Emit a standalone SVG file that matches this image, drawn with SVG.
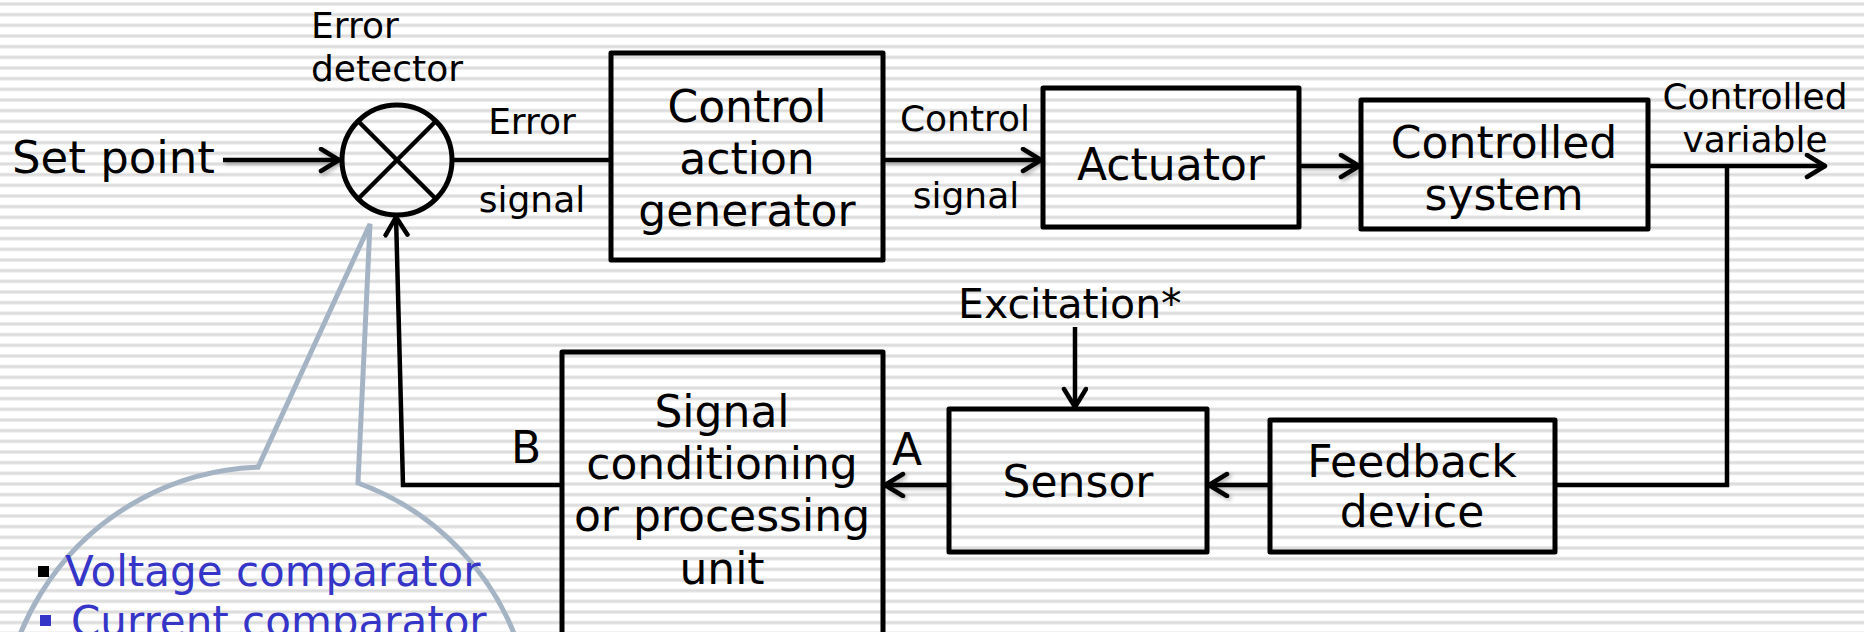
<svg xmlns="http://www.w3.org/2000/svg" width="1864" height="632" viewBox="0 0 1864 632">
<style>
  .box{fill:none;stroke:#000;stroke-width:5;stroke-linejoin:round}
  .big{font-family:"DejaVu Sans",Verdana,sans-serif;font-size:44px;fill:#000}
  .sm{font-family:"DejaVu Sans",Verdana,sans-serif;font-size:36px;fill:#000}
  .mid{text-anchor:middle}
  .ln{fill:none;stroke:#000;stroke-width:4.5}
  .bub{font-family:"DejaVu Sans",Verdana,sans-serif;font-size:42px;fill:#3535c8}
</style>
<defs>
  <pattern id="stripes" width="40" height="10.6667" patternUnits="userSpaceOnUse">
    <rect width="40" height="10.6667" fill="#ffffff"/>
    <rect y="2" width="40" height="4" fill="#efefef"/>
    <rect y="2.8" width="40" height="2.4" fill="#dcdcdc"/>
  </pattern>
  <marker id="arr" markerUnits="userSpaceOnUse" markerWidth="32" markerHeight="32" refX="23" refY="13" orient="auto">
    <path d="M4 2 L22 13 L4 24" fill="none" stroke="#000" stroke-width="4.5" stroke-linecap="round" stroke-linejoin="round"/>
  </marker>
  <filter id="sh" filterUnits="userSpaceOnUse" x="0" y="0" width="1864" height="632">
    <feDropShadow dx="2" dy="2" stdDeviation="2" flood-color="#000" flood-opacity="0.3"/>
  </filter>
</defs>
<rect width="1864" height="632" fill="url(#stripes)"/>

<g id="callout">
  <path d="M258 467.2 A266 266 0 1 0 358 483 L370 224 Z" fill="none" stroke="#a5b4c4" stroke-width="5" stroke-linejoin="miter"/>
  <rect x="38" y="566" width="11" height="11" fill="#000"/>
  <text class="bub" x="65" y="586">Voltage comparator</text>
  <rect x="40" y="615" width="11" height="11" fill="#3535c8"/>
  <text class="bub" x="71" y="636">Current comparator</text>
</g>

<g id="connectors">
  <line class="ln" x1="223" y1="160" x2="340" y2="160" marker-end="url(#arr)" filter="url(#sh)"/>
  <line class="ln" x1="452" y1="160" x2="611" y2="160"/>
  <line class="ln" x1="883" y1="160" x2="1042" y2="160" marker-end="url(#arr)" filter="url(#sh)"/>
  <line class="ln" x1="1299" y1="166" x2="1360" y2="166" marker-end="url(#arr)" filter="url(#sh)"/>
  <line class="ln" x1="1648" y1="166" x2="1826" y2="166" marker-end="url(#arr)"/>
  <polyline class="ln" points="1727,166 1727,485 1555,485"/>
  <line class="ln" x1="1270" y1="485" x2="1208" y2="485" marker-end="url(#arr)" filter="url(#sh)"/>
  <line class="ln" x1="1075" y1="327" x2="1075" y2="408" marker-end="url(#arr)"/>
  <line class="ln" x1="949" y1="485" x2="884" y2="485" marker-end="url(#arr)" filter="url(#sh)"/>
  <polyline class="ln" points="562,485 403,485 396,216" marker-end="url(#arr)"/>
</g>

<g id="setpoint">
  <text class="big" x="12" y="173" style="font-size:45px">Set point</text>
</g>

<g id="error-detector">
  <circle cx="397" cy="160" r="55" fill="none" stroke="#000" stroke-width="5"/>
  <line x1="358" y1="121" x2="436" y2="199" stroke="#000" stroke-width="4.5"/>
  <line x1="436" y1="121" x2="358" y2="199" stroke="#000" stroke-width="4.5"/>
  <text class="sm" x="311" y="38">Error</text>
  <text class="sm" x="311" y="81">detector</text>
</g>

<g id="error-signal-label">
  <text class="sm mid" x="532" y="134">Error</text>
  <text class="sm mid" x="532" y="212">signal</text>
</g>

<g id="control-action-generator">
  <rect class="box" x="611" y="53" width="272" height="207"/>
  <text class="big mid" x="747" y="122">Control</text>
  <text class="big mid" x="747" y="174">action</text>
  <text class="big mid" x="747" y="226">generator</text>
</g>

<g id="control-signal-label">
  <text class="sm mid" x="965" y="131">Control</text>
  <text class="sm mid" x="966" y="208">signal</text>
</g>

<g id="actuator">
  <rect class="box" x="1043" y="88" width="256" height="139"/>
  <text class="big mid" x="1171" y="180">Actuator</text>
</g>

<g id="controlled-system">
  <rect class="box" x="1361" y="100" width="287" height="129"/>
  <text class="big mid" x="1504" y="158">Controlled</text>
  <text class="big mid" x="1504" y="210">system</text>
</g>

<g id="controlled-variable-label">
  <text class="sm mid" x="1755" y="109">Controlled</text>
  <text class="sm mid" x="1755" y="152">variable</text>
</g>

<g id="feedback-device">
  <rect class="box" x="1270" y="420" width="285" height="132"/>
  <text class="big mid" x="1412" y="477">Feedback</text>
  <text class="big mid" x="1412" y="527">device</text>
</g>

<g id="sensor">
  <rect class="box" x="949" y="409" width="258" height="143"/>
  <text class="big mid" x="1078" y="497">Sensor</text>
</g>

<g id="excitation">
  <text class="big" x="958" y="318" style="font-size:41px">Excitation*</text>
</g>

<g id="signal-conditioning">
  <rect class="box" x="562" y="352" width="321" height="300"/>
  <text class="big mid" x="722" y="427">Signal</text>
  <text class="big mid" x="722" y="479">conditioning</text>
  <text class="big mid" x="722" y="531">or processing</text>
  <text class="big mid" x="722" y="584">unit</text>
</g>

<g id="labels-ab">
  <text class="big" x="892" y="465">A</text>
  <text class="big" x="511" y="463">B</text>
</g>
</svg>
